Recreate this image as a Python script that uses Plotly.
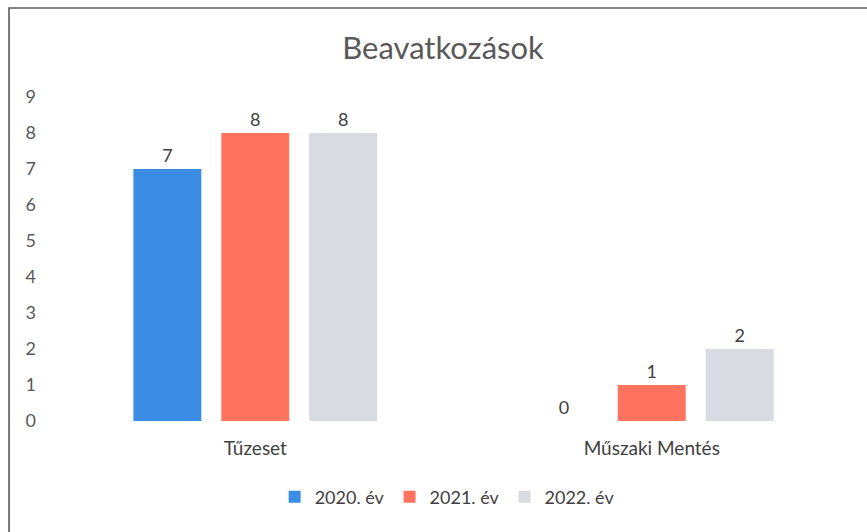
import plotly.graph_objects as go

# Intervention counts per category and year
categories = ["Tűzeset", "Műszaki Mentés"]
series_names = ["2020. év", "2021. év", "2022. év"]
values_2020 = [7, 0]
values_2021 = [8, 1]
values_2022 = [8, 2]
y_ticks = list(range(0, 10))

colors = ["#3b8ce3", "#ff735f", "#d8dbe1"]
font_family = "Lato, 'Open Sans', sans-serif"
text_grey = "#595959"

fig = go.Figure()
for name, vals, col in zip(series_names, [values_2020, values_2021, values_2022], colors):
    fig.add_trace(go.Bar(
        x=categories, y=vals, name=name,
        marker=dict(color=col, line=dict(width=0)),
        text=[str(v) for v in vals], textposition="outside",
        textfont=dict(size=18, color="#404040", family=font_family),
        cliponaxis=False,
    ))

fig.update_layout(
    width=867, height=532,
    margin=dict(l=57, r=17, t=97, b=111),
    paper_bgcolor="white", plot_bgcolor="white",
    barmode="group", bargap=0.335, bargroupgap=0.227,
    font=dict(family=font_family, color=text_grey),
    title=dict(text="Beavatkozások", x=0.511, xanchor="center", y=0.91, yanchor="middle",
               font=dict(size=31, color=text_grey, family=font_family)),
    xaxis=dict(showgrid=False, showline=False, ticks="", tickfont=dict(size=19, color="#404040"),
               ticklabelstandoff=14),
    yaxis=dict(range=[0, 9], tickvals=y_ticks, showgrid=False, showline=False, zeroline=False,
               tickfont=dict(size=18, color=text_grey), ticklabelstandoff=20),
    legend=dict(orientation="h", x=0.492, xanchor="center", y=-0.235, yanchor="middle",
                font=dict(size=18, color="#404040"), itemwidth=30, traceorder="normal"),
    showlegend=True,
)

# Chart frame
fig.add_shape(type="rect", xref="paper", yref="paper",
              x0=-0.0605, x1=1.03, y0=-0.36, y1=1.2747,
              line=dict(color="#5a5a5a", width=1.6), layer="above")

fig.write_html("out.html")
